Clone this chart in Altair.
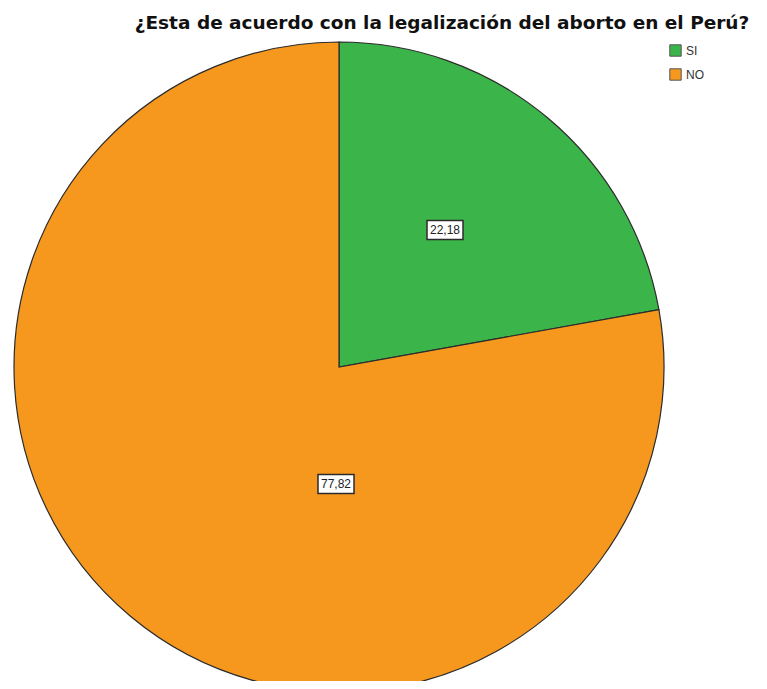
import altair as alt
import pandas as pd

# ---- data ----
categories = ["SI", "NO"]
values = [22.18, 77.82]
colors = ["#3BB54A", "#F7981E"]
title_text = "¿Esta de acuerdo con la legalización del aborto en el Perú?"

# ---- layout (plot-area pixels) ----
W, H = 751, 673
CX, CY, R = 331, 359, 325
label_xy = {"SI": (437, 222), "NO": (328, 476)}
BOX_W, BOX_H = 36, 19

df = pd.DataFrame({"cat": categories, "value": values, "order": list(range(len(categories)))})
df["label"] = [f"{v:.2f}".replace(".", ",") for v in values]
df["lx"] = [label_xy[c][0] for c in categories]
df["ly"] = [label_xy[c][1] for c in categories]
df["x1"] = df["lx"] - BOX_W / 2
df["x2"] = df["lx"] + BOX_W / 2
df["y1"] = df["ly"] - BOX_H / 2
df["y2"] = df["ly"] + BOX_H / 2

pie = alt.Chart(df).mark_arc(outerRadius=R, stroke="#2b2b2b", strokeWidth=1.2).encode(
    theta=alt.Theta("value:Q", stack=True),
    order=alt.Order("order:Q"),
    color=alt.Color(
        "cat:N",
        scale=alt.Scale(domain=categories, range=colors),
        sort=categories,
        legend=alt.Legend(
            title=None, orient="none", legendX=661, legendY=36,
            symbolType="square", symbolSize=130, symbolStrokeColor="#555",
            symbolStrokeWidth=1, labelFontSize=12, labelFont="Liberation Sans",
            labelColor="#333", rowPadding=7, labelOffset=4, padding=0,
        ),
    ),
    x=alt.value(CX),
    y=alt.value(CY),
)

boxes = alt.Chart(df).mark_rect(fill="white", stroke="#2b2b2b", strokeWidth=1.5).encode(
    x=alt.X("x1:Q", scale=None, axis=None),
    x2="x2:Q",
    y=alt.Y("y1:Q", scale=None, axis=None),
    y2="y2:Q",
)

labels = alt.Chart(df).mark_text(font="Liberation Sans", fontSize=12, color="#222").encode(
    x=alt.X("lx:Q", scale=None, axis=None),
    y=alt.Y("ly:Q", scale=None, axis=None),
    text="label:N",
)

title = alt.Chart(pd.DataFrame({"t": [title_text]})).mark_text(
    font="DejaVu Sans", fontSize=18.5, fontWeight="bold", color="#111", baseline="alphabetic"
).encode(x=alt.value(434), y=alt.value(21), text="t:N")

chart = alt.layer(pie, boxes, labels, title).properties(
    width=W, height=H, autosize=alt.AutoSizeParams(type="none"), padding=0
).configure_view(strokeWidth=0)

chart.save("out.html", embed_options={"renderer": "svg", "actions": False})
